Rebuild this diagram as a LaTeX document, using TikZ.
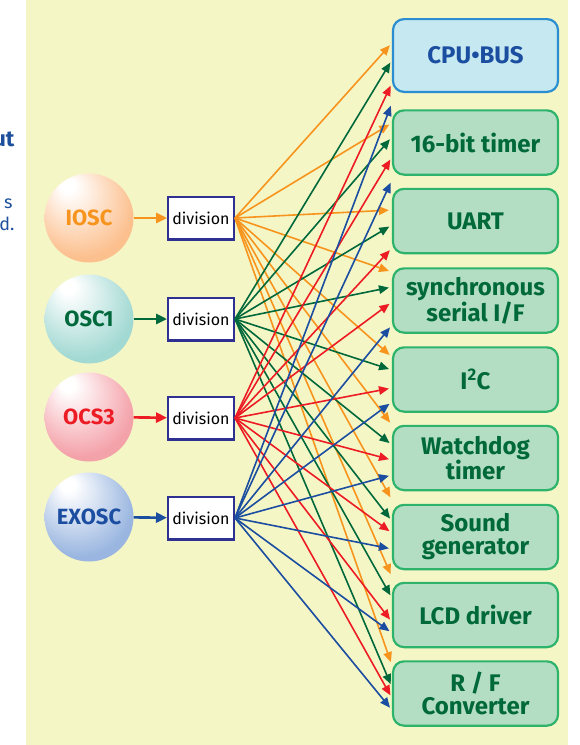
\documentclass[tikz,border=0pt]{standalone}
\usepackage{fontspec}
\setmainfont{Fira Sans}
\usetikzlibrary{arrows.meta}

\definecolor{bgyellow}{HTML}{F5F6C6}
\definecolor{pageblue}{HTML}{1D4F9C}
\definecolor{clkorange}{HTML}{F7941D}
\definecolor{clkgreen}{HTML}{00693C}
\definecolor{clkred}{HTML}{ED1C24}
\definecolor{clkblue}{HTML}{1B4EA0}
\definecolor{navy}{HTML}{2E3192}
\definecolor{unitfill}{HTML}{B4DEC3}
\definecolor{unitedge}{HTML}{2DB36C}
\definecolor{busfill}{HTML}{C6E8F0}
\definecolor{busedge}{HTML}{2A8ED0}
\definecolor{iosccol}{HTML}{FCC08F}
\definecolor{osc1col}{HTML}{A3D9D3}
\definecolor{ocs3col}{HTML}{F4A2AA}
\definecolor{exosccol}{HTML}{9AB6E0}
\colorlet{orbcol}{iosccol}

% soft ball, highlight up left
\pgfdeclareradialshading[orbcol]{orb}{\pgfpoint{-13bp}{20bp}}{color(0bp)=(white); color(4bp)=(white); color(30bp)=(orbcol); color(50bp)=(orbcol)}

\newcommand\oscfont{\fontsize{22}{24}\selectfont\bfseries}
\newcommand\divfont{\fontsize{16}{18}\selectfont}
\newcommand\unitfont{\fontsize{24}{23}\selectfont\bfseries}

\tikzset{
  % oscillators: orb=<ball colour>
  orb/.style={circle,inner sep=0pt,minimum size=89pt,
    /utils/exec={\colorlet{orbcol}{#1}},shading=orb,font=\oscfont},
  % clock divider box
  divider/.style={draw=navy,line width=2.4pt,fill=white,inner sep=0pt,
    minimum width=65.6pt,minimum height=42.6pt,font=\divfont},
  % peripheral blocks
  unit/.style={draw=unitedge,line width=2.2pt,fill=unitfill,text=clkgreen,
    rounded corners=11pt,minimum width=165pt,minimum height=64.3pt,
    align=center,inner sep=0pt,font=\unitfont},
  busunit/.style={unit,draw=busedge,fill=busfill,text=clkblue,minimum height=72.8pt},
  % clock lines
  feed/.style={line width=2.6pt,-{Triangle[length=11pt,width=10pt]}},
  clk/.style={line width=1.6pt,shorten >=3pt,-{Triangle[length=10pt,width=8.5pt]}},
  cut/.style={anchor=base east,text=pageblue},
}

\begin{document}
\begin{tikzpicture}[x=1pt,y=-1pt]
  \useasboundingbox (0,0) rectangle (579,745);
  \fill[bgyellow] (26,0) rectangle (568,745);
  % text of the next column, cut off
  \node[cut,font=\fontsize{22}{22}\selectfont\bfseries] (cuta) at (18,146) {ut};
  \node[cut,font=\fontsize{18}{18}\selectfont] (cutb) at (16,208) {s};
  \node[cut,font=\fontsize{18}{18}\selectfont] (cutc) at (18,230) {d.};

  \node[orb=iosccol,text=clkorange] (iosc) at (89,218) {IOSC};
  \node[orb=osc1col,text=clkgreen] (osc1) at (89,319) {OSC1};
  \node[orb=ocs3col,text=clkred] (ocs3) at (89,417) {OCS3};
  \node[orb=exosccol,text=clkblue] (exosc) at (89,517) {EXOSC};

  \node[divider] (div1) at (201,218) {division};
  \node[divider] (div2) at (201,319) {division};
  \node[divider] (div3) at (201,418) {division};
  \node[divider] (div4) at (201,518) {division};
  \draw[feed,clkorange] (iosc) -- (div1);
  \draw[feed,clkgreen] (osc1) -- (div2);
  \draw[feed,clkred] (ocs3) -- (div3);
  \draw[feed,clkblue] (exosc) -- (div4);

  \node[busunit] (cpu) at (475.5,55.5) {CPU•BUS};
  \node[unit] (tmr) at (475.5,142.5) {16-bit timer};
  \node[unit] (uart) at (475.5,221) {UART};
  \node[unit] (sif) at (475.5,300.5) {synchronous\\serial I/F};
  \node[unit] (iic) at (475.5,379.5) {I\textsuperscript{2}C};
  \node[unit] (wdt) at (475.5,458) {Watchdog\\timer};
  \node[unit] (snd) at (475.5,537) {Sound\\generator};
  \node[unit] (lcd) at (475.5,615) {LCD driver};
  \node[unit] (rfc) at (475.5,693.5) {R / F\\Converter};

  % every divider feeds the blocks
  \foreach \t/\y in {cpu/43,tmr/123,uart/210,sif/272,iic/357,wdt/425,snd/500,lcd/577,rfc/665}
    \draw[clk,clkorange] (div1.east) -- (\t.west |- 0,\y);
  \foreach \t/\y in {cpu/60,tmr/137,uart/225,sif/287,iic/370,wdt/445,snd/521,lcd/598,rfc/687}
    \draw[clk,clkgreen] (div2.east) -- (\t.west |- 0,\y);
  \foreach \t/\y in {cpu/83,tmr/157,uart/248,sif/302,iic/388,wdt/460,snd/533,lcd/622,rfc/698}
    \draw[clk,clkred] (div3.east) -- (\t.west |- 0,\y);
  \foreach \t/\y in {cpu/103,tmr/180,sif/325,iic/402,wdt/475,snd/549,lcd/633,rfc/710}
    \draw[clk,clkblue] (div4.east) -- (\t.west |- 0,\y);
\end{tikzpicture}
\end{document}
